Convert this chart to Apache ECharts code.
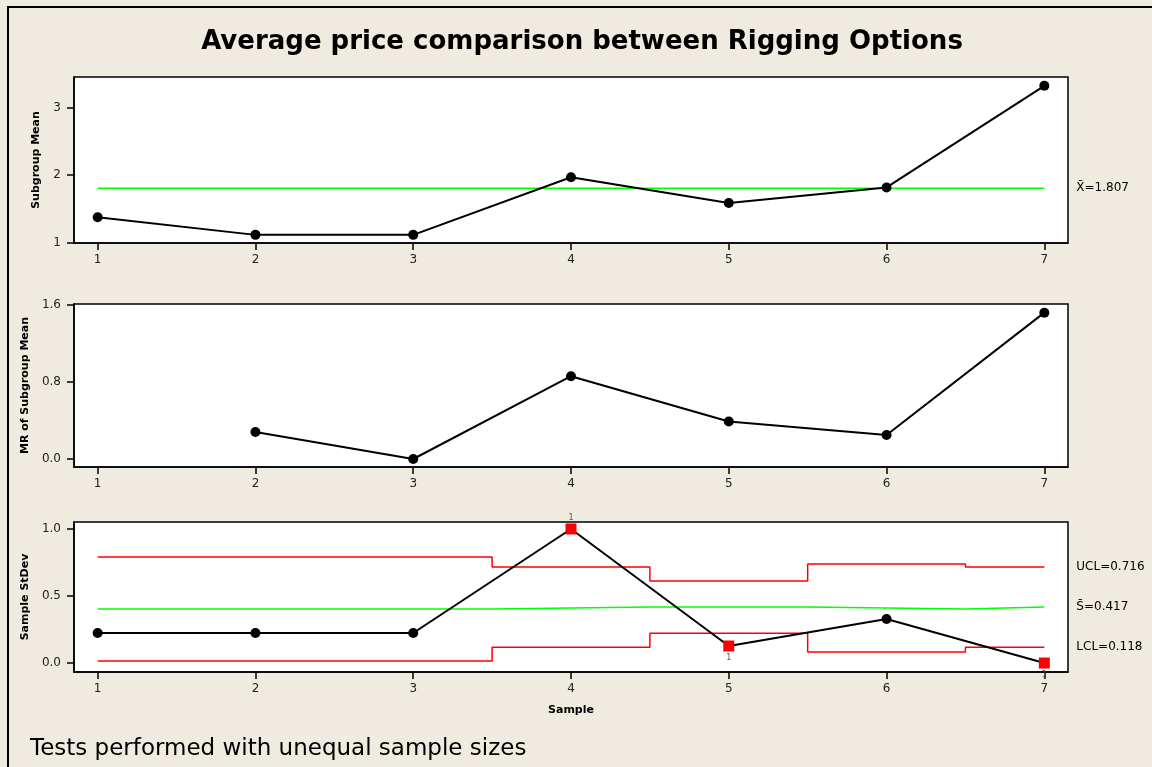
<!DOCTYPE html>
<html>
<head>
<meta charset="utf-8">
<script src="https://cdn.jsdelivr.net/npm/echarts@6/dist/echarts.min.js"></script>
<style>
html, body { margin: 0; padding: 0; background: #efebe1; }
#main { width: 1152px; height: 767px; }
</style>
</head>
<body>
<div id="main"></div>
<script>
// data
var samples = [1, 2, 3, 4, 5, 6, 7];
var subgroupMean = [1.38, 1.12, 1.12, 1.97, 1.59, 1.82, 3.32];
var xbar = 1.807;
var movingRange = [null, 0.28, 0.0, 0.86, 0.39, 0.25, 1.52];
var sampleStDev = [0.224, 0.224, 0.224, 1.0, 0.127, 0.328, 0.0];
// control limits change at these x positions (unequal sample sizes)
var limitEdges = [1, 3.5, 4.5, 5.5, 6.5, 7];
var ucl = [0.791, 0.716, 0.612, 0.738, 0.716];
var sCenter = [0.403, 0.417, 0.417, 0.403, 0.417];
var lcl = [0.015, 0.118, 0.222, 0.082, 0.118];
var failedSamples = [4, 5, 7];
var failedLabelPos = ['top', 'bottom', 'bottom'];
var meanTicks = [1, 2, 3];
var mrTicks = [0, 0.8, 1.6];
var sdTicks = [0, 0.5, 1.0];

var FONT = 'DejaVu Sans';

function stepData(vals) {
  return limitEdges.map(function (x, i) {
    return [x, vals[Math.min(i, vals.length - 1)]];
  });
}

function pairs(vals) {
  return samples.map(function (s, i) { return [s, vals[i]]; });
}

function xAxisFor(idx, extra) {
  var ax = {
    type: 'value', gridIndex: idx, min: 0.85, max: 7.15,
    splitLine: { show: false },
    axisLine: { show: true, onZero: false, lineStyle: { color: '#000', width: 1.5 } },
    axisTick: { show: true, length: 7, customValues: samples, lineStyle: { color: '#000', width: 1.5 } },
    axisLabel: { customValues: samples, margin: 11, color: '#222', fontSize: 12, fontFamily: FONT }
  };
  for (var k in extra) ax[k] = extra[k];
  return ax;
}

function yAxisFor(idx, min, max, ticks, name, gap, digits) {
  return {
    type: 'value', gridIndex: idx, min: min, max: max,
    name: name, nameLocation: 'middle', nameGap: gap, nameRotate: 90,
    nameTextStyle: { fontWeight: 'bold', fontSize: 11, color: '#000', fontFamily: FONT },
    splitLine: { show: false },
    axisLine: { show: true, onZero: false, lineStyle: { color: '#000', width: 1.5 } },
    axisTick: { show: true, length: 7, customValues: ticks, lineStyle: { color: '#000', width: 1.5 } },
    axisLabel: {
      customValues: ticks, margin: 13, color: '#222', fontSize: 12, fontFamily: FONT,
      formatter: function (v) { return v.toFixed(digits); }
    }
  };
}

function limitSeries(vals, color, text) {
  return {
    type: 'line', xAxisIndex: 2, yAxisIndex: 2, step: 'end',
    data: stepData(vals), symbol: 'none', silent: true,
    lineStyle: { color: color, width: 1.5 },
    endLabel: { show: true, formatter: text, distance: 32, color: '#000', fontSize: 12, fontFamily: FONT }
  };
}

var sdData = samples.map(function (s, i) {
  var k = failedSamples.indexOf(s);
  if (k < 0) return [s, sampleStDev[i]];
  return {
    value: [s, sampleStDev[i]], symbol: 'rect', symbolSize: 11,
    itemStyle: { color: '#ff0000' },
    label: { show: true, formatter: '1', position: failedLabelPos[k], distance: 2, fontSize: 8, color: '#555', fontFamily: FONT }
  };
});

var myChart = echarts.init(document.getElementById('main'));

var option = {
  backgroundColor: '#efebe1',
  animation: false,
  textStyle: { fontFamily: FONT },
  title: [
    {
      text: 'Average price comparison between Rigging Options',
      left: 582, top: 29, textAlign: 'center', padding: 0,
      textStyle: { fontSize: 26, fontWeight: 'bold', color: '#000', fontFamily: FONT }
    },
    {
      text: 'Tests performed with unequal sample sizes',
      left: 30, top: 738, padding: 0,
      textStyle: { fontSize: 23, fontWeight: 'normal', color: '#000', fontFamily: FONT }
    }
  ],
  graphic: [{
    type: 'polyline', silent: true,
    shape: { points: [[8, 767], [8, 7], [1152, 7]] },
    style: { stroke: '#000', lineWidth: 2, fill: null }
  }],
  grid: [
    { left: 74, top: 77, right: 84, height: 166, show: true, backgroundColor: '#fff', borderColor: '#000', borderWidth: 1.5 },
    { left: 74, top: 304, right: 84, height: 163, show: true, backgroundColor: '#fff', borderColor: '#000', borderWidth: 1.5 },
    { left: 74, top: 522, right: 84, height: 150, show: true, backgroundColor: '#fff', borderColor: '#000', borderWidth: 1.5 }
  ],
  xAxis: [
    xAxisFor(0, {}),
    xAxisFor(1, {}),
    xAxisFor(2, {
      name: 'Sample', nameLocation: 'middle', nameGap: 33,
      nameTextStyle: { fontWeight: 'bold', fontSize: 11, color: '#000', fontFamily: FONT }
    })
  ],
  yAxis: [
    yAxisFor(0, 1, 3.45, meanTicks, 'Subgroup Mean', 32, 0),
    yAxisFor(1, -0.083, 1.61, mrTicks, 'MR of Subgroup Mean', 40, 1),
    yAxisFor(2, -0.067, 1.052, sdTicks, 'Sample StDev', 41, 1)
  ],
  series: [
    {
      type: 'line', xAxisIndex: 0, yAxisIndex: 0, silent: true,
      data: [[samples[0], xbar], [samples[samples.length - 1], xbar]],
      symbol: 'none', lineStyle: { color: '#00ff00', width: 1.5 },
      endLabel: { show: true, formatter: 'X\u0304=' + xbar.toFixed(3), distance: 32, color: '#000', fontSize: 12, fontFamily: FONT }
    },
    {
      type: 'line', xAxisIndex: 0, yAxisIndex: 0,
      data: pairs(subgroupMean), symbol: 'circle', symbolSize: 10,
      itemStyle: { color: '#000' }, lineStyle: { color: '#000', width: 2 }
    },
    {
      type: 'line', xAxisIndex: 1, yAxisIndex: 1,
      data: pairs(movingRange), symbol: 'circle', symbolSize: 10,
      itemStyle: { color: '#000' }, lineStyle: { color: '#000', width: 2 }
    },
    limitSeries(ucl, '#ff0000', 'UCL=' + ucl[ucl.length - 1].toFixed(3)),
    limitSeries(sCenter, '#00ff00', 'S\u0304=' + sCenter[sCenter.length - 1].toFixed(3)),
    limitSeries(lcl, '#ff0000', 'LCL=' + lcl[lcl.length - 1].toFixed(3)),
    {
      type: 'line', xAxisIndex: 2, yAxisIndex: 2, clip: false,
      data: sdData, symbol: 'circle', symbolSize: 10,
      itemStyle: { color: '#000' }, lineStyle: { color: '#000', width: 2 }
    }
  ]
};

myChart.setOption(option);
</script>
</body>
</html>
